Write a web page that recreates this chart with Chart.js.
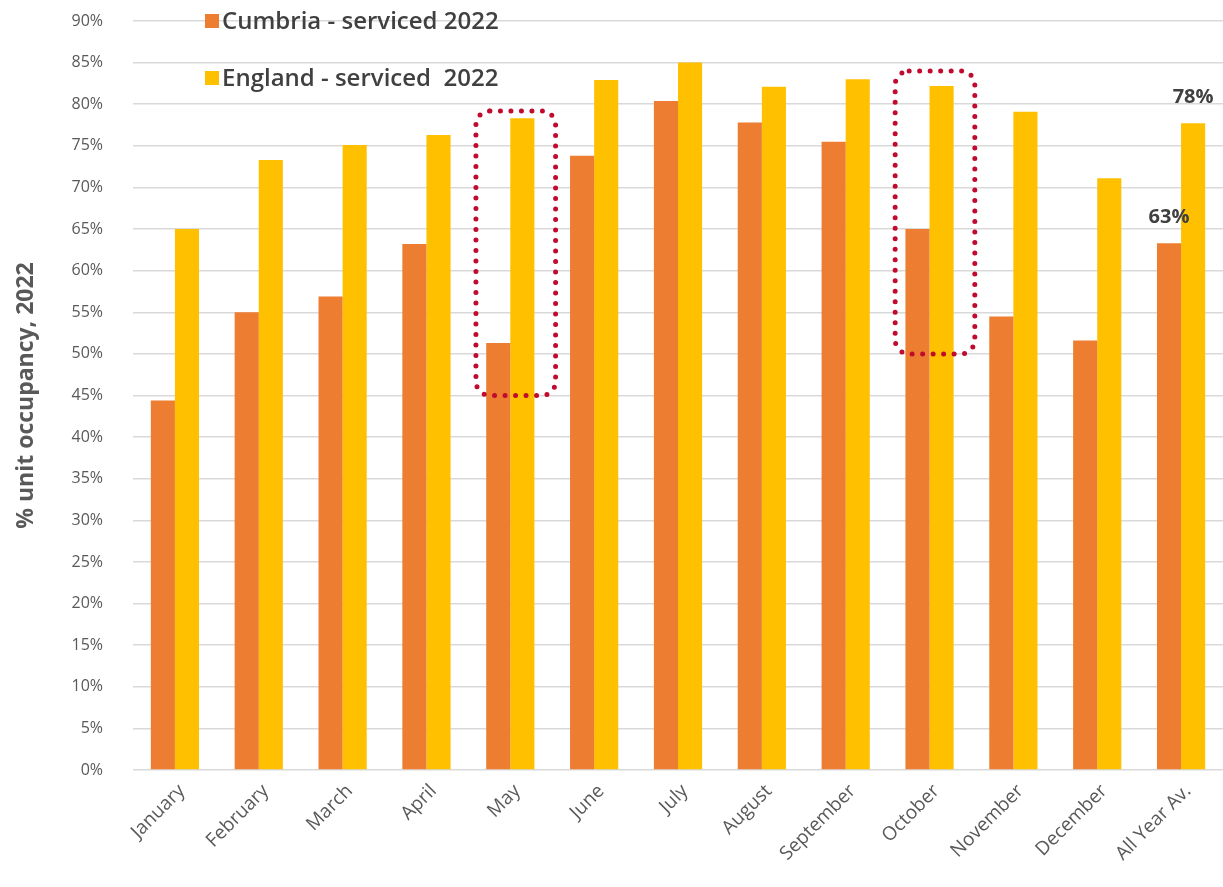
<!DOCTYPE html>
<html>
<head>
<meta charset="utf-8">
<title>Serviced unit occupancy 2022</title>
<script src="https://cdn.jsdelivr.net/npm/chart.js@4.4.1/dist/chart.umd.min.js"></script>
<style>
    html, body { margin: 0; padding: 0; background: #fff; }
    #wrap { position: relative; width: 1223px; height: 887px; }
</style>
</head>
<body>
<div id="wrap"><canvas id="occupancyChart"></canvas></div>
<script>
// Monthly unit occupancy (%), serviced accommodation
const months = ['January', 'February', 'March', 'April', 'May', 'June', 'July',
    'August', 'September', 'October', 'November', 'December', 'All Year Av.'];
const cumbria = [44.4, 55.0, 56.9, 63.2, 51.3, 73.8, 80.4, 77.8, 75.5, 65.0, 54.5, 51.6, 63.3];
const england = [65.0, 73.3, 75.1, 76.3, 78.3, 82.9, 85.0, 82.1, 83.0, 82.2, 79.1, 71.1, 77.7];

const seriesNames = ['Cumbria - serviced 2022', 'England - serviced  2022'];
const seriesColors = ['#ED7D31', '#FFC000'];

// Months picked out with a dotted frame, and the % range each frame covers
const highlightMonths = ['May', 'October'];
const highlightLow = [45, 50];
const highlightHigh = [79.2, 84.0];

const TICK_COLOR = '#595959';
const TEXT_COLOR = '#404040';
const FONT = '"Open Sans", "Noto Sans", sans-serif';

// Dotted, rounded frames around the highlighted months
const highlightBoxes = {
    id: 'highlightBoxes',
    afterDatasetsDraw(chart) {
        const { ctx, scales: { x, y } } = chart;
        const step = x.getPixelForValue(1) - x.getPixelForValue(0);
        ctx.save();
        ctx.strokeStyle = '#C00A2E';
        ctx.lineWidth = 5;
        ctx.lineCap = 'round';
        ctx.setLineDash([0, 10.5]);
        highlightMonths.forEach((m, i) => {
            const cx = x.getPixelForValue(months.indexOf(m));
            const left = cx - step * 0.41;
            const right = cx + step * 0.54;
            const top = y.getPixelForValue(highlightHigh[i]);
            const bottom = y.getPixelForValue(highlightLow[i]);
            ctx.beginPath();
            ctx.roundRect(left, top, right - left, bottom - top, 14);
            ctx.stroke();
        });
        ctx.restore();
    }
};

// Value labels over the all-year average bars
const averageLabels = {
    id: 'averageLabels',
    afterDatasetsDraw(chart) {
        const { ctx } = chart;
        const last = months.length - 1;
        ctx.save();
        ctx.font = `bold 20px ${FONT}`;
        ctx.fillStyle = TEXT_COLOR;
        ctx.textAlign = 'center';
        ctx.textBaseline = 'middle';
        chart.data.datasets.forEach((ds, i) => {
            const bar = chart.getDatasetMeta(i).data[last];
            ctx.fillText(Math.round(ds.data[last]) + '%', bar.x, bar.y - 26);
        });
        ctx.restore();
    }
};

// Legend drawn inside the plot, top left
const insideLegend = {
    id: 'insideLegend',
    afterDraw(chart) {
        const { ctx, chartArea } = chart;
        const x0 = chartArea.left + 72;
        ctx.save();
        ctx.font = `600 24px ${FONT}`;
        ctx.textBaseline = 'middle';
        seriesNames.forEach((name, i) => {
            const cy = chartArea.top + i * 57;
            ctx.fillStyle = seriesColors[i];
            ctx.fillRect(x0, cy - 7, 14, 14);
            ctx.fillStyle = TEXT_COLOR;
            ctx.fillText(name, x0 + 17, cy + 1);
        });
        ctx.restore();
    }
};

function init() {
    const ctx = document.getElementById('occupancyChart').getContext('2d');

    new Chart(ctx, {
        type: 'bar',
        data: {
            labels: months,
            datasets: [cumbria, england].map((values, i) => ({
                label: seriesNames[i],
                data: values,
                backgroundColor: seriesColors[i],
                borderWidth: 0,
                categoryPercentage: 0.575,
                barPercentage: 1.0
            }))
        },
        options: {
            responsive: true,
            maintainAspectRatio: false,
            animation: false,
            layout: { padding: { top: 21, right: 0, bottom: 0, left: 0 } },
            plugins: {
                legend: { display: false },
                tooltip: { enabled: false }
            },
            scales: {
                x: {
                    grid: { display: false },
                    border: { display: false },
                    ticks: {
                        color: TICK_COLOR,
                        font: { family: FONT, size: 19 },
                        minRotation: 45,
                        maxRotation: 45,
                        autoSkip: false,
                        labelOffset: 7,
                        padding: 2
                    },
                    afterFit(scale) { scale.height = 117; }
                },
                y: {
                    min: 0,
                    max: 90,
                    ticks: {
                        stepSize: 5,
                        color: TICK_COLOR,
                        font: { family: FONT, size: 16 },
                        padding: 30,
                        callback: v => v + '%'
                    },
                    grid: { color: '#D9D9D9', lineWidth: 1.5, drawTicks: false },
                    border: { display: false },
                    title: {
                        display: true,
                        text: '% unit occupancy, 2022',
                        color: TICK_COLOR,
                        font: { family: FONT, size: 23, weight: 'bold' },
                        padding: { top: 13, bottom: 0 }
                    },
                    afterFit(scale) {
                        scale.width = 133;
                        // keep the tick padding from pushing the plot down
                        scale.paddingTop = 0;
                        scale.paddingBottom = 0;
                    }
                }
            }
        },
        plugins: [highlightBoxes, averageLabels, insideLegend]
    });
}

document.addEventListener('DOMContentLoaded', init);
</script>
</body>
</html>
